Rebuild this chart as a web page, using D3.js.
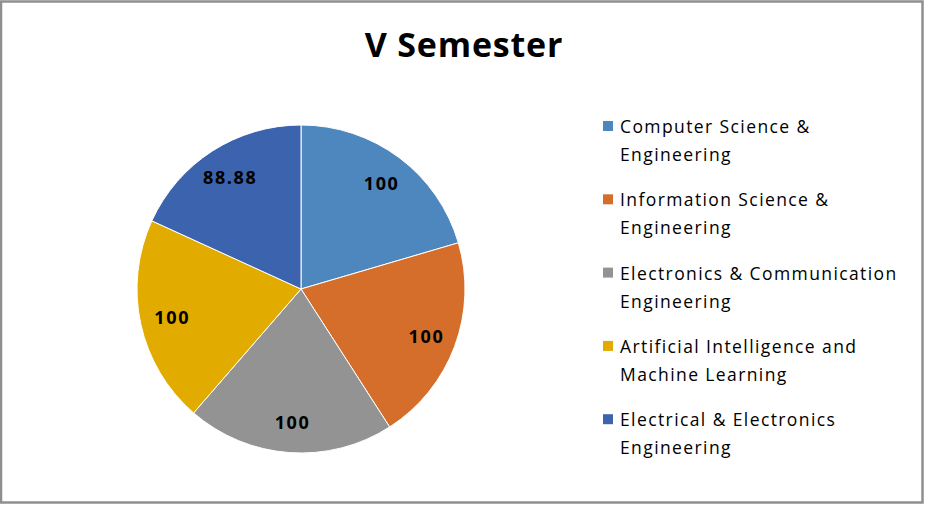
<!DOCTYPE html>
<html>
<head>
<meta charset="utf-8">
<script src="https://cdn.jsdelivr.net/npm/d3@7"></script>
<style>
  body { margin: 0; background: #fff; }
  text { font-family: "Open Sans", "DejaVu Sans", sans-serif; }
</style>
</head>
<body>
<svg id="chart" width="925" height="505"></svg>
<script>
// chart data
var departments = [
  "Computer Science & Engineering",
  "Information Science & Engineering",
  "Electronics & Communication Engineering",
  "Artificial Intelligence and Machine Learning",
  "Electrical & Electronics Engineering"
];
var legendLines = [
  ["Computer Science &", "Engineering"],
  ["Information Science &", "Engineering"],
  ["Electronics & Communication", "Engineering"],
  ["Artificial Intelligence and", "Machine Learning"],
  ["Electrical & Electronics", "Engineering"]
];
var passPercent = [100, 100, 100, 100, 88.88];
var sliceColors = ["#4E86BE", "#D46E2A", "#939393", "#E2AB00", "#3C64AE"];
var chartTitle = "V Semester";

var svg = d3.select("#chart");

// frame
svg.append("rect")
  .attr("x", 1).attr("y", 1.5)
  .attr("width", 921.5).attr("height", 501)
  .attr("fill", "#fff")
  .attr("stroke", "#8f8f8f")
  .attr("stroke-width", 2.5);

// title
svg.append("text")
  .attr("x", 464).attr("y", 57)
  .attr("text-anchor", "middle")
  .attr("font-size", 34)
  .attr("font-weight", "bold")
  .attr("letter-spacing", 0.8)
  .attr("fill", "#000")
  .text(chartTitle);

// pie
var cx = 301, cy = 289, radius = 164;
var g = svg.append("g").attr("transform", `translate(${cx},${cy})`);

var pie = d3.pie().sort(null).value(function(d) { return d; });
var arcs = pie(passPercent);
var arc = d3.arc().innerRadius(0).outerRadius(radius);
var labelArc = d3.arc().innerRadius(radius * 0.8).outerRadius(radius * 0.82);

g.selectAll("path")
  .data(arcs)
  .enter()
  .append("path")
  .attr("d", arc)
  .attr("fill", function(d, i) { return sliceColors[i]; })
  .attr("stroke", "#fff")
  .attr("stroke-width", 1);

g.selectAll(".slice-label")
  .data(arcs)
  .enter()
  .append("text")
  .attr("class", "slice-label")
  .attr("transform", function(d) { return `translate(${labelArc.centroid(d)})`; })
  .attr("text-anchor", "middle")
  .attr("dy", "0.4em")
  .attr("dx", 1)
  .attr("font-size", 18)
  .attr("font-weight", "bold")
  .attr("letter-spacing", 1.6)
  .attr("fill", "#000")
  .text(function(d) { return d.data; });

// legend
var legend = svg.append("g").attr("transform", "translate(603,0)");
var row = legend.selectAll(".legend-row")
  .data(departments)
  .enter()
  .append("g")
  .attr("class", "legend-row")
  .attr("transform", function(d, i) { return `translate(0,${133 + i * 73.3})`; });

row.append("rect")
  .attr("x", 0).attr("y", -12)
  .attr("width", 10).attr("height", 10)
  .attr("fill", function(d, i) { return sliceColors[i]; });

row.append("text")
  .attr("x", 18)
  .attr("font-size", 17.5)
  .attr("letter-spacing", 1.4)
  .attr("fill", "#000")
  .selectAll("tspan")
  .data(function(d, i) { return legendLines[i]; })
  .enter()
  .append("tspan")
  .attr("x", 17)
  .attr("y", function(d, j) { return j * 28; })
  .text(function(d) { return d; });
</script>
</body>
</html>
